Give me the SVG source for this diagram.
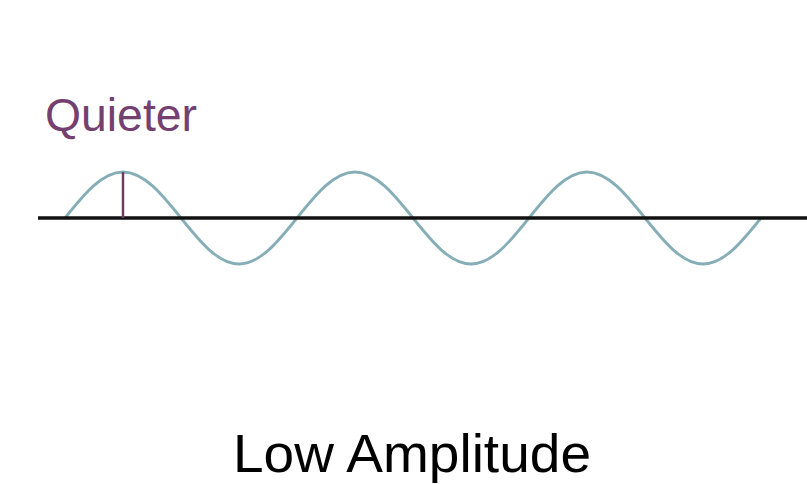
<svg xmlns="http://www.w3.org/2000/svg" width="807" height="484" viewBox="0 0 807 484">
<style>
.wave{fill:none;stroke:#86aeb6;stroke-width:2.8}
.axis{stroke:#111;stroke-width:3.5}
.mark{stroke:#6e3d62;stroke-width:2.5}
.lbl{font-family:"Liberation Sans",Arial,sans-serif}
</style>
<rect width="807" height="484" fill="#fff"/>
<g id="wave">
<path class="wave" d="M65,218 C83.9,194.4 102,172 123,172 S162.1,194.4 181,218 S218,264 239,264 S278.1,241.6 297,218 S334,172 355,172 S394.1,194.4 413,218 S450,264 471,264 S510.1,241.6 529,218 S566,172 587,172 S626.1,194.4 645,218 S682,264 703,264 S742.1,241.6 761,218"/>
</g>
<g id="axis">
<line class="axis" x1="38" y1="218" x2="807" y2="218"/>
<line class="mark" x1="123" y1="172" x2="123" y2="218"/>
</g>
<g id="labels">
<text class="lbl" x="45" y="131" font-size="46" fill="#74406f" textLength="152" lengthAdjust="spacingAndGlyphs">Quieter</text>
<text class="lbl" x="233" y="472" font-size="53" fill="#000" textLength="358" lengthAdjust="spacingAndGlyphs">Low Amplitude</text>
</g>
</svg>
